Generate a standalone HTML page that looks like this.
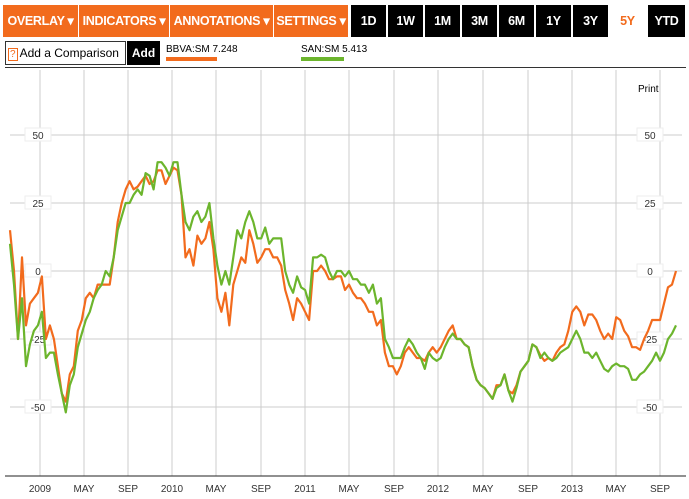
<!DOCTYPE html>
<html><head><meta charset="utf-8"><style>
body{margin:0;width:689px;height:499px;background:#fff;font-family:"Liberation Sans",sans-serif;position:relative;overflow:hidden}
.b{position:absolute;top:5px;height:32px;line-height:32px;color:#fff;font-weight:bold;font-size:12.5px;text-align:center;letter-spacing:-0.3px}
.o{background:#f26b1d}.k{background:#000}
</style></head><body>
<div class="b o" style="left:3px;width:75px">OVERLAY ▾</div>
<div class="b o" style="left:79px;width:90px">INDICATORS ▾</div>
<div class="b o" style="left:170px;width:103px">ANNOTATIONS ▾</div>
<div class="b o" style="left:274px;width:74px">SETTINGS ▾</div>
<div class="b k" style="left:351px;width:35px">1D</div>
<div class="b k" style="left:388px;width:35px">1W</div>
<div class="b k" style="left:425px;width:35px">1M</div>
<div class="b k" style="left:462px;width:35px">3M</div>
<div class="b k" style="left:499px;width:35px">6M</div>
<div class="b k" style="left:536px;width:35px">1Y</div>
<div class="b k" style="left:573px;width:35px">3Y</div>
<div class="b" style="left:610px;width:35px;color:#f26b1d">5Y</div>
<div class="b k" style="left:648px;width:37px">YTD</div>
<div style="position:absolute;left:5px;top:41px;width:119px;height:22px;border:1px solid #333;font-size:12px;line-height:22px;white-space:nowrap;overflow:hidden"><span style="color:#f26b1d;border:1px solid #f26b1d;margin:0 2px 0 2px;font-size:10px;padding:0 1px">?</span>Add a Comparison</div>
<div style="position:absolute;left:127px;top:41px;width:33px;height:24px;background:#000;color:#fff;font-weight:bold;font-size:12px;line-height:24px;text-align:center">Add</div>
<div style="position:absolute;left:166px;top:44px;font-size:10px">BBVA:SM 7.248<div style="width:51px;height:4px;background:#f26b1d;margin-top:2px"></div></div>
<div style="position:absolute;left:301px;top:44px;font-size:10px">SAN:SM 5.413<div style="width:43px;height:4px;background:#6cb52d;margin-top:2px"></div></div>
<div style="position:absolute;left:5px;top:67px;width:681px;height:1px;background:#333"></div>
<div style="position:absolute;left:638px;top:84px;font-size:10px">Print</div>
<svg id="c" width="689" height="499" style="position:absolute;left:0;top:0"></svg>
<script>
const yTicks=[50,25,0,-25,-50];
const xLabels=["2009","MAY","SEP","2010","MAY","SEP","2011","MAY","SEP","2012","MAY","SEP","2013","MAY","SEP"];
const xLabelPos=[40,84,128,172,216,261,305,349,394,438,483,528,572,616,660];
const bbva=[15,0,-25,5,-20,-12,-10,-8,-2,-25,-20,-25,-35,-45,-48,-38,-35,-22,-18,-10,-8,-10,-5,-5,-5,-5,5,18,25,30,33,30,31,33,35,32,33,37,37,32,35,38,37,28,5,8,2,13,10,12,18,8,-10,-15,-8,-20,-5,0,5,3,15,10,3,5,8,8,5,5,2,-7,-12,-18,-10,-12,-15,-18,0,0,2,0,-3,-3,-2,
-2,-7,-5,-8,-10,-10,-12,-15,-15,-20,-18,-30,-35,-35,-38,-35,-30,-28,-30,-32,-32,-33,-30,-28,-30,-28,-25,-22,-20,-25,-25,-27,-28,-35,-40,-42,-43,-45,-47,-42,-42,-38,-44,-45,-42,-37,-35,-33,-27,-28,-31,-33,-32,-33,-30,-28,-27,-22,-15,-13,-15,-20,-16,-16,-18,-22,-25,-23,-25,-17,-18,-22,-24,-28,-28,-29,-25,-22,-18,-18,-18,-12,-6,-5,0];
const san=[10,-5,-25,-10,-35,-27,-22,-20,-15,-32,-30,-30,-38,-45,-52,-42,-38,-28,-23,-18,-15,-10,-7,-5,0,-2,5,15,20,25,25,28,30,28,36,35,30,40,40,38,35,40,40,28,18,15,20,22,18,20,25,12,2,-5,0,-5,5,15,12,18,22,18,12,12,16,10,12,12,12,0,-5,-8,-2,-6,-7,-12,5,5,6,5,0,-3,0,
0,-2,0,-3,-3,-5,-5,-8,-5,-12,-10,-25,-28,-32,-32,-32,-28,-25,-27,-30,-32,-36,-30,-32,-33,-32,-28,-25,-23,-25,-25,-27,-28,-35,-40,-42,-43,-45,-47,-43,-42,-38,-44,-48,-43,-37,-35,-33,-27,-28,-32,-30,-32,-33,-32,-30,-29,-28,-25,-22,-25,-30,-30,-32,-30,-33,-36,-37,-35,-34,-35,-35,-36,-40,-40,-38,-37,-35,-33,-30,-33,-30,-25,-23,-20];
const svg=document.getElementById('c'),NS="http://www.w3.org/2000/svg";
const y=v=>271-v*2.72;
const xi=(i,n)=>10+i*(666/(n-1));
function mk(t,a,p){const e=document.createElementNS(NS,t);for(const k in a)e.setAttribute(k,a[k]);(p||svg).appendChild(e);return e;}
xLabelPos.forEach((x,i)=>{
 const l=mk('line',{x1:x,x2:x,y1:70,y2:476,stroke:'#ccc','stroke-width':1});
 
 
 const t=mk('text',{x:x,y:492,'text-anchor':'middle','font-size':10,fill:'#333','font-family':'Liberation Sans'});
 t.textContent=xLabels[i];
 
 
});
yTicks.forEach(v=>{
 const l=mk('line',{x1:10,x2:682,y1:y(v),y2:y(v),stroke:'#ccc','stroke-width':1});
 
 
 [38,650].forEach(cx=>{
  mk('rect',{x:cx-13,y:y(v)-7,width:26,height:13,fill:'#fff',stroke:'#eee'});
  const t=mk('text',{x:cx,y:y(v)+4,'text-anchor':'middle','font-size':10,fill:'#333','font-family':'Liberation Sans'});
  t.textContent=v;
  
  
 });
});
mk('line',{x1:5,x2:686,y1:476,y2:476,stroke:'#222','stroke-width':1});
function series(d,col,name){
 const p=mk('polyline',{points:d.map((v,i)=>xi(i,d.length).toFixed(1)+','+y(v).toFixed(1)).join(' '),fill:'none',stroke:col,'stroke-width':2.2,'stroke-linejoin':'round'});
 
 
}
series(bbva,'#f26b1d','bbva-line');
series(san,'#6cb52d','san-line');
</script>
</body></html>
